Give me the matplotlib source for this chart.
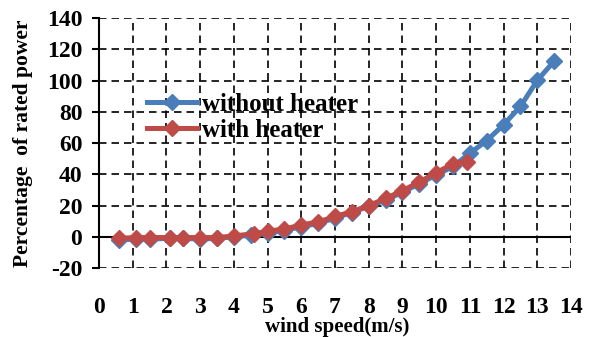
import matplotlib
matplotlib.use("Agg")
import matplotlib.pyplot as plt

# wind speed (m/s) and percentage of rated power
x_without = [0.6, 1.1, 1.5, 2.1, 2.5, 3.0, 3.5, 4.0, 4.5, 5.0, 5.5, 6.0, 6.5, 7.0,
             7.5, 8.0, 8.5, 9.0, 9.5, 10.0, 10.5, 11.0, 11.5, 12.0, 12.5, 13.0, 13.5]
y_without = [-2, -1.5, -1.5, -1, -1, -1.5, -1, 0, 1, 2.5, 4, 6.5, 8.5, 12,
             15.5, 19.5, 23.5, 28.5, 34, 39.5, 45, 53.5, 61.5, 71.7, 83.4, 100.1, 112.4]
x_with = [0.6, 1.1, 1.5, 2.1, 2.5, 3.0, 3.5, 4.0, 4.6, 5.0, 5.5, 6.0, 6.5, 7.0,
          7.5, 8.0, 8.5, 9.0, 9.5, 10.0, 10.5, 10.9]
y_with = [-1, -0.5, -0.5, -0.5, -0.5, -0.5, -0.5, 0.5, 2, 3.5, 5, 7.5, 9.5, 13,
          16, 20, 24.5, 29.5, 35, 41, 46.7, 48.1]
xticks = list(range(0, 15))
yticks = list(range(-20, 141, 20))

plt.rcParams['font.family'] = ['Liberation Serif', 'DejaVu Serif']
plt.rcParams['font.weight'] = 'bold'
plt.rcParams['axes.unicode_minus'] = False

fig = plt.figure(figsize=(5.95, 3.37), dpi=100)
ax = fig.add_axes([0.1664, 0.2047, 0.7933, 0.7419])

blue = '#4A7EBB'
red = '#BE4B48'
ax.plot(x_without, y_without, color=blue, lw=3.6, marker='D', ms=8,
        label='without heater', zorder=3)
ax.plot(x_with, y_with, color=red, lw=3.6, marker='D', ms=8,
        label='with heater', zorder=4)

ax.set_xlim(0, 14)
ax.set_ylim(-20, 140)
ax.set_xticks(xticks, labels=[str(t) for t in xticks], fontweight='bold')
ax.set_yticks(yticks, labels=[str(t) for t in yticks], fontweight='bold')
ax.grid(True, color='black', linestyle=(0, (4.5, 3)), lw=1.2)
ax.axhline(0, color='black', lw=1.5, zorder=2)

for s in ['top', 'right', 'bottom']:
    ax.spines[s].set_visible(False)
ax.spines['left'].set_linewidth(1.5)

ax.tick_params(axis='x', length=0, pad=21, labelsize=17)
ax.tick_params(axis='y', length=5, width=1.5, pad=7, labelsize=17)

ax.set_ylabel('Percentage  of rated power', fontsize=15.5, fontweight='bold')
ax.yaxis.set_label_coords(-0.14, 0.5)
fig.text(0.567, 0.03, 'wind speed(m/s)', ha='center', va='center',
         fontsize=15, fontweight='bold')

leg = ax.legend(loc='upper left', bbox_to_anchor=(0.08, 0.74), frameon=False,
                prop={'weight': 'bold', 'size': 18}, handlelength=2.0,
                handletextpad=0.2, labelspacing=0.1, borderaxespad=0)

fig.savefig('out.png', dpi=100)
